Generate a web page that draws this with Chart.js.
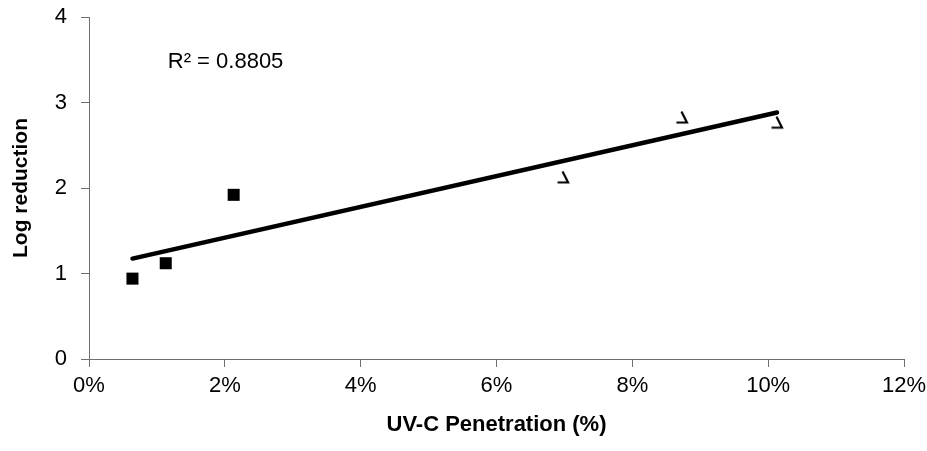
<!DOCTYPE html>
<html>
<head>
<meta charset="utf-8">
<script src="https://cdn.jsdelivr.net/npm/chart.js@4.4.1/dist/chart.umd.min.js"></script>
<style>
  html, body { margin: 0; padding: 0; background: #fff; }
  #wrap { width: 927px; height: 451px; position: relative; }
</style>
</head>
<body>
<div id="wrap"><canvas id="uvChart"></canvas></div>
<script>
// square markers (low penetration)
const lowX = [0.64, 1.13, 2.13];
const lowY = [0.94, 1.12, 1.92];
// triangle markers (high penetration)
const highX = [6.98, 8.73, 10.13];
const highY = [2.13, 2.83, 2.77];
const xTicks = [0, 2, 4, 6, 8, 10, 12];
const yTicks = [0, 1, 2, 3, 4];
const rSquaredText = 'R² = 0.8805';

const FONT = '"Liberation Sans", Arial, sans-serif';
const AXIS = '#6f6f6f';

function pts(xs, ys) {
  return xs.map((x, i) => ({ x: x, y: ys[i] }));
}

// least squares trend over all points
function trend(xs, ys) {
  const n = xs.length;
  const mx = xs.reduce((a, b) => a + b, 0) / n;
  const my = ys.reduce((a, b) => a + b, 0) / n;
  let sxy = 0, sxx = 0;
  for (let i = 0; i < n; i++) {
    sxy += (xs[i] - mx) * (ys[i] - my);
    sxx += (xs[i] - mx) * (xs[i] - mx);
  }
  const b = sxy / sxx;
  const a = my - b * mx;
  const x0 = Math.min(...xs), x1 = Math.max(...xs);
  return [{ x: x0, y: a + b * x0 }, { x: x1, y: a + b * x1 }];
}

// half-drawn triangle marker like the original
const tri = document.createElement('canvas');
tri.width = 16; tri.height = 16;
(function () {
  const c = tri.getContext('2d');
  c.strokeStyle = '#000';
  c.lineWidth = 2.2;
  c.beginPath();
  c.moveTo(7.5, 2.5);
  c.lineTo(13, 13.5);
  c.lineTo(2.5, 13.5);
  c.stroke();
})();

const allX = lowX.concat(highX);
const allY = lowY.concat(highY);

const r2Label = {
  id: 'r2Label',
  afterDatasetsDraw(chart) {
    const ctx = chart.ctx;
    const x = chart.scales.x.getPixelForValue(1.16);
    const y = chart.scales.y.getPixelForValue(3.48);
    ctx.save();
    ctx.font = '22px ' + FONT;
    ctx.fillStyle = '#000';
    ctx.textBaseline = 'middle';
    ctx.fillText(rSquaredText, x, y);
    ctx.restore();
  }
};

new Chart(document.getElementById('uvChart'), {
  type: 'scatter',
  data: {
    datasets: [
      {
        type: 'line',
        data: trend(allX, allY),
        borderColor: '#000',
        borderWidth: 4.5,
        borderCapStyle: 'round',
        pointRadius: 0,
        fill: false
      },
      {
        data: pts(lowX, lowY),
        pointStyle: 'rect',
        pointRadius: 8.5,
        backgroundColor: '#000',
        borderColor: '#000',
        borderWidth: 0
      },
      {
        data: pts(highX, highY),
        pointStyle: tri,
        pointRadius: 8
      }
    ]
  },
  options: {
    responsive: true,
    maintainAspectRatio: false,
    animation: false,
    layout: { padding: { left: 0, right: 23, top: 17, bottom: 0 } },
    plugins: {
      legend: { display: false },
      tooltip: { enabled: false }
    },
    scales: {
      x: {
        type: 'linear',
        min: 0,
        max: 12,
        afterBuildTicks: (s) => { s.ticks = xTicks.map(v => ({ value: v })); },
        afterFit: (s) => {
          s.height = 92;
          s.paddingLeft = 0;
          s.paddingRight = 0;
        },
        ticks: {
          color: '#000',
          font: { family: FONT, size: 22 },
          padding: 6,
          maxRotation: 0,
          callback: (v) => v + '%'
        },
        grid: { drawOnChartArea: false, color: AXIS, tickLength: 8 },
        border: { color: AXIS, width: 1 },
        title: {
          display: true,
          text: 'UV-C Penetration (%)',
          color: '#000',
          font: { family: FONT, size: 22, weight: 'bold' },
          padding: { top: 0, bottom: 13 }
        }
      },
      y: {
        min: 0,
        max: 4,
        afterBuildTicks: (s) => { s.ticks = yTicks.map(v => ({ value: v })); },
        afterFit: (s) => {
          s.width = 89;
          s.paddingTop = 0;
          s.paddingBottom = 0;
        },
        ticks: {
          color: '#000',
          font: { family: FONT, size: 22 },
          padding: 14
        },
        grid: { drawOnChartArea: false, color: AXIS, tickLength: 8 },
        border: { color: AXIS, width: 1 },
        title: {
          display: true,
          text: 'Log reduction',
          color: '#000',
          font: { family: FONT, size: 21, weight: 'bold' },
          padding: { top: 9, bottom: 0 }
        }
      }
    }
  },
  plugins: [r2Label]
});
</script>
</body>
</html>
